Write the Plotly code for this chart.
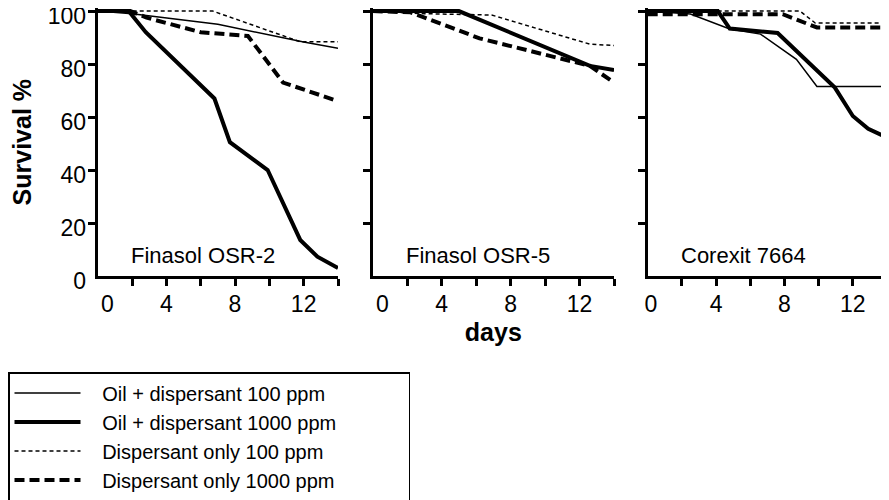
import plotly.graph_objects as go

# ---------------- data ----------------
panel_names = ["Finasol OSR-2", "Finasol OSR-5", "Corexit 7664"]
series_names = ["Oil + dispersant 100 ppm", "Oil + dispersant 1000 ppm",
                "Dispersant only 100 ppm", "Dispersant only 1000 ppm"]

# Finasol OSR-2
osr2_oil100_days = [0, 2, 7, 10, 12, 14]
osr2_oil100_surv = [100, 99, 95, 91, 88.3, 86]
osr2_oil1000_days = [0, 1.8, 2.8, 6.8, 7.7, 9.9, 11.8, 12.8, 14]
osr2_oil1000_surv = [100, 100, 92, 67, 50.5, 40, 13.6, 7.3, 3]
osr2_disp100_days = [0, 6.7, 11.8, 14]
osr2_disp100_surv = [100, 100, 88.4, 88.4]
osr2_disp1000_days = [0, 1.9, 2.85, 6, 8.75, 10.8, 14]
osr2_disp1000_surv = [100, 100, 97.5, 92, 90.6, 73, 66]

# Finasol OSR-5
osr5_oil100_days = [0, 5, 12.6, 14]
osr5_oil100_surv = [100, 100, 79.3, 77.7]
osr5_oil1000_days = [0, 5, 12.6, 14]
osr5_oil1000_surv = [100, 100, 79.3, 77.7]
osr5_disp100_days = [0, 3, 6.9, 12.6, 14]
osr5_disp100_surv = [100, 99, 98.5, 87.5, 87]
osr5_disp1000_days = [0, 2.2, 6.2, 12.6, 14]
osr5_disp1000_surv = [100, 99.5, 89.7, 79.3, 73]

# Corexit 7664
cx_oil100_days = [0, 2.5, 4.8, 6.6, 8.7, 9.9, 14]
cx_oil100_surv = [100, 98.9, 93.2, 91.3, 81.8, 71.5, 71.5]
cx_oil1000_days = [0, 4.1, 4.8, 7.6, 10.95, 12, 12.9, 14]
cx_oil1000_surv = [100, 100, 93.4, 91.7, 71.1, 60.4, 55.6, 52.2]
cx_disp100_days = [0, 8.9, 9.8, 14]
cx_disp100_surv = [100, 100, 95.5, 95.5]
cx_disp1000_days = [0, 7.9, 9.9, 14]
cx_disp1000_surv = [98.8, 98.8, 93.8, 93.8]

y_tick_vals = [0, 20, 40, 60, 80, 100]
y_tick_marks = [20, 40, 60, 80, 100]
x_tick_vals = [0, 4, 8, 12]
x_tick_marks = [2, 4, 6, 8, 10, 12, 14]

panels = [
    [(osr2_oil100_days, osr2_oil100_surv), (osr2_oil1000_days, osr2_oil1000_surv),
     (osr2_disp100_days, osr2_disp100_surv), (osr2_disp1000_days, osr2_disp1000_surv)],
    [(osr5_oil100_days, osr5_oil100_surv), (osr5_oil1000_days, osr5_oil1000_surv),
     (osr5_disp100_days, osr5_disp100_surv), (osr5_disp1000_days, osr5_disp1000_surv)],
    [(cx_oil100_days, cx_oil100_surv), (cx_oil1000_days, cx_oil1000_surv),
     (cx_disp100_days, cx_disp100_surv), (cx_disp1000_days, cx_disp1000_surv)],
]

# ---------------- style ----------------
FONT = "Liberation Sans, Arial, Helvetica, sans-serif"
W, H = 881, 492          # page body has an 8px margin
OFF = 8
line_styles = [
    dict(color="black", width=1.5, dash="solid"),
    dict(color="black", width=4, dash="solid"),
    dict(color="black", width=1.5, dash="4px,3px"),
    dict(color="black", width=4, dash="10px,5px"),
]
x_px = [(97.7, 338), (372.7, 614), (647.7, 887)]
x_domains = [[(a - OFF) / W, (b - OFF) / W] for a, b in x_px]
y_domain = [1 - (276 - OFF) / H, 1 - (8.4 - OFF) / H]
zero_labels = ["\u00a0\u00a0\u00a00", "\u00a0\u00a0\u00a00", "\u00a00"]
panel_label_x = [0.44, 0.437, 0.40]
NB = "\u00a0"
legend_names = [NB * 3 + n + NB * 12 for n in series_names]

fig = go.Figure()
for p, series in enumerate(panels):
    xa = "x" if p == 0 else f"x{p + 1}"
    ya = "y" if p == 0 else f"y{p + 1}"
    for s, (d, v) in enumerate(series):
        fig.add_trace(go.Scatter(
            x=d, y=v, mode="lines", name=legend_names[s],
            line=line_styles[s], legendgroup=series_names[s],
            showlegend=(p == 0), xaxis=xa, yaxis=ya, hoverinfo="skip"))

layout = dict(
    width=W, height=H,
    margin=dict(l=0, r=0, t=0, b=0, autoexpand=False),
    paper_bgcolor="white", plot_bgcolor="white",
    font=dict(family=FONT, size=23, color="black"),
    showlegend=True,
    legend=dict(x=0, y=1 - (372 - OFF) / H, xanchor="left", yanchor="top",
                bordercolor="black", borderwidth=1.5, bgcolor="white",
                font=dict(size=20), itemwidth=66, tracegroupgap=0),
)

for p in range(3):
    xkey = "xaxis" if p == 0 else f"xaxis{p + 1}"
    ykey = "yaxis" if p == 0 else f"yaxis{p + 1}"
    ya = "y" if p == 0 else f"y{p + 1}"
    xa = "x" if p == 0 else f"x{p + 1}"
    layout[xkey] = dict(
        domain=x_domains[p], range=[0, 14], anchor=ya, automargin=True,
        showline=True, linewidth=3, linecolor="black", showgrid=False, zeroline=False,
        tickmode="array", tickvals=x_tick_vals,
        ticktext=[zero_labels[p]] + [str(t) for t in x_tick_vals[1:]],
        ticks="", ticklabelstandoff=5, ticklabeloverflow="allow",
        minor=dict(tickmode="array", tickvals=x_tick_marks, ticks="outside",
                   ticklen=7, tickwidth=2.5, tickcolor="black", showgrid=False),
        tickfont=dict(size=23),
    )
    layout[ykey] = dict(
        domain=y_domain, range=[0, 101], anchor=xa, automargin=True,
        showline=True, linewidth=3, linecolor="black", showgrid=False, zeroline=False,
        tickmode="array", tickvals=y_tick_vals, ticks="",
        showticklabels=(p == 0), ticklabelstandoff=4, ticklabelshift=5,
        ticklabeloverflow="allow",
        minor=dict(tickmode="array", tickvals=y_tick_marks, ticks="outside",
                   ticklen=7, tickwidth=2.5, tickcolor="black", showgrid=False),
        tickfont=dict(size=23),
    )
    fig.add_annotation(text=panel_names[p], xref=f"{xa} domain", yref=f"{ya} domain",
                       x=panel_label_x[p], y=0.075, showarrow=False,
                       font=dict(size=22), xanchor="center", yanchor="middle")

layout["yaxis"]["title"] = dict(text="<b>Survival %</b>", font=dict(size=25), standoff=25)
layout["xaxis2"]["title"] = dict(text="<b>days</b>", font=dict(size=25), standoff=8)

fig.update_layout(**layout)
fig.write_html("out.html")
